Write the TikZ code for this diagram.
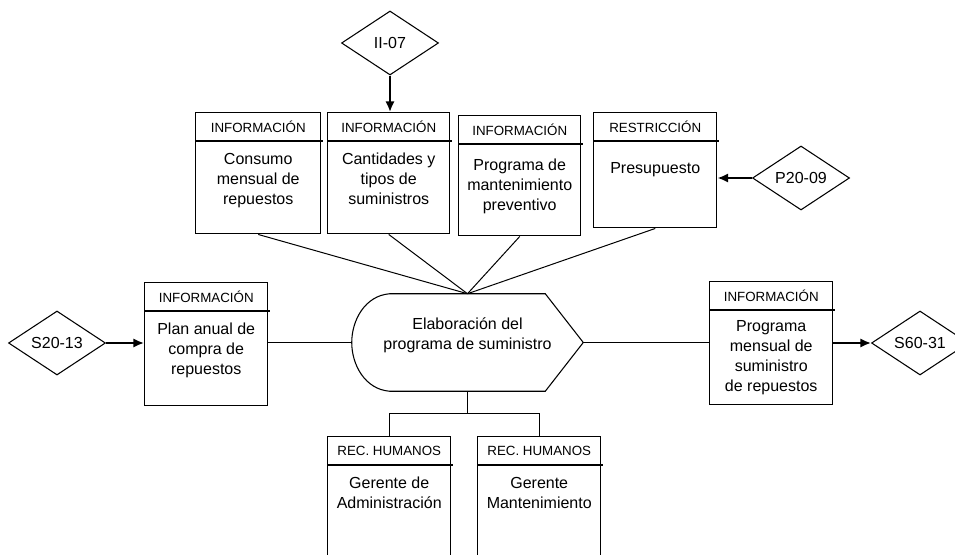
\documentclass[tikz,border=0pt]{standalone}
\usepackage{fontspec}
\setmainfont{Liberation Sans}
\usetikzlibrary{calc}
\usetikzlibrary{arrows.meta,shapes.geometric}
\usetikzlibrary{positioning}
\tikzset{%
  recbox/.style={rectangle,draw,line width=1.1pt,inner sep=0pt},
  recline/.style={line width=1.1pt},
  rechead/.style={font=\fontsize{10pt}{12pt}\selectfont,inner sep=0pt},
  rectext/.style={font=\fontsize{12pt}{15pt}\selectfont,align=center,inner sep=0pt},
  refdiamond/.style={diamond,draw,line width=0.8pt,inner sep=0pt,aspect=1.5,
    minimum width=97*0.75pt,minimum height=64*0.75pt,font=\fontsize{12pt}{14pt}\selectfont},
  inarrow/.style={-{Latex[length=8pt,width=7pt]},line width=1.5pt},
  link/.style={line width=0.75pt}
}
% box with a header band: [text offset] name, x, y (top left), width, height, header, text
\newcommand*\recbox[8][41]{
    \node[recbox,anchor=north west,minimum width=#5*0.75pt,minimum height=#6*0.75pt] (#2) at (#3,#4) {};
    \draw[recline] ($(#2.north west)+(0,29)$) -- ++(#5+3,0);
    \node[rechead] at ($(#2.north)+(0,14.5)$) {#7};
    \node[rectext,anchor=north] (#2-txt) at ($(#2.north)+(0,#1)$) {#8};
}

\begin{document}
\begin{tikzpicture}[x=0.75pt,y=-0.75pt]
    \useasboundingbox (0,0) rectangle (955,555);
    \clip (0,0) rectangle (955,555);

    % central process
    \node[minimum width=231*0.75pt,minimum height=97*0.75pt,inner sep=0pt] (proc) at (467.5,342.5) {};
    \draw[line width=0.8pt] ($(proc.north west)+(38,0)$) -- ($(proc.north east)+(-38,0)$) -- (proc.east)
        -- ($(proc.south east)+(-38,0)$) -- ($(proc.south west)+(38,0)$)
        .. controls ($(proc.south west)+(13,-2)$) and ($(proc.west)+(0,22)$) .. (proc.west)
        .. controls ($(proc.west)+(0,-22)$) and ($(proc.north west)+(13,2)$) .. cycle;
    \node[rectext] (proctxt) at ($(proc)+(0,-7)$) {Elaboración del\\programa de suministro};

    % inputs on top
    \recbox{consumo}{195}{112}{125}{121}{INFORMACIÓN}{Consumo\\mensual de\\repuestos}
    \recbox{cantidades}{327}{112}{122}{121}{INFORMACIÓN}{Cantidades y\\tipos de\\suministros}
    \recbox[44]{mantprev}{458}{115}{122}{120}{INFORMACIÓN}{Programa de\\mantenimiento\\preventivo}
    \recbox[50]{presup}{593}{112}{123}{115}{RESTRICCIÓN}{Presupuesto}
    % left input and output
    \recbox{plananual}{144}{282}{123}{123}{INFORMACIÓN}{Plan anual de\\compra de\\repuestos}
    \recbox[39]{progmens}{709}{281}{123}{123}{INFORMACIÓN}{Programa\\mensual de\\suministro\\de repuestos}
    % people
    \recbox{geradmin}{327}{436}{123}{140}{REC. HUMANOS}{Gerente de\\Administración}
    \recbox{germant}{477}{436}{123}{140}{REC. HUMANOS}{Gerente\\Mantenimiento}

    % references
    \node[refdiamond] (ii07) at (390,43) {II-07};
    \node[refdiamond] (p2009) at (801,178) {P20-09};
    \node[refdiamond] (s2013) at (57,343) {S20-13};
    \node[refdiamond] (s6031) at (920,343) {S60-31};

    \draw[inarrow] (ii07.south) -- (ii07.south |- cantidades.north);
    \draw[inarrow] (p2009.west) -- (p2009.west -| presup.east);
    \draw[inarrow] (s2013.east) -- (s2013.east -| plananual.west);
    \draw[inarrow] (progmens.east |- s6031.west) -- (s6031.west);

    \foreach \src in {consumo,cantidades,mantprev,presup}
        \draw[link] (\src.south) -- (proc.north);
    \draw[link] (plananual.east |- proc.west) -- (proc.west);
    \draw[link] (proc.east) -- (proc.east -| progmens.west);

    \coordinate (split) at ($(proc.south)+(0,22)$);
    \draw[link] (proc.south) -- (split);
    \draw[link] (geradmin.north) |- (split) -| (germant.north);
\end{tikzpicture}
\end{document}
